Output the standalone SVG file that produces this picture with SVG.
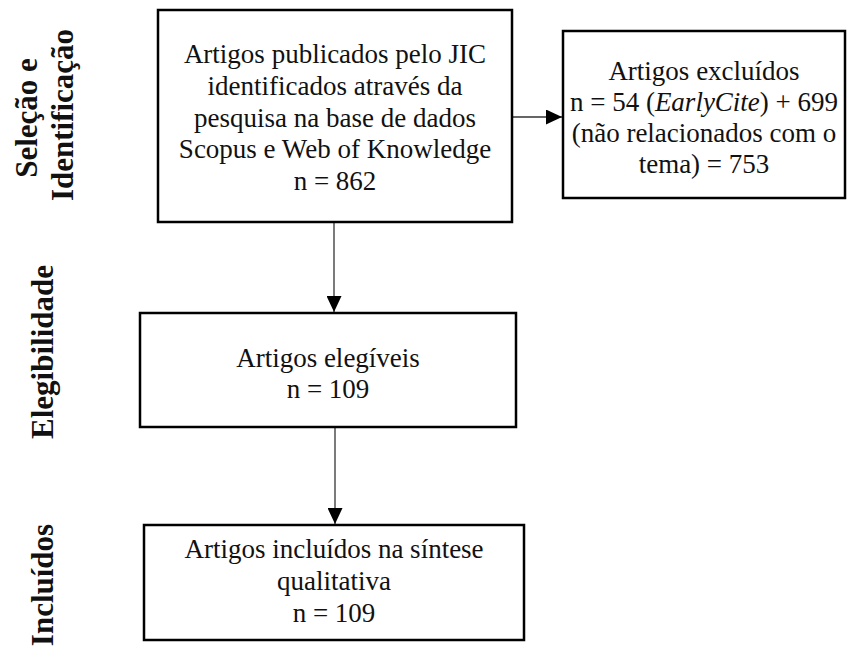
<svg xmlns="http://www.w3.org/2000/svg" width="849" height="648" viewBox="0 0 849 648">
<style>
.box{fill:#fff;stroke:#000;stroke-width:2.5}
.t{font-family:'Liberation Serif','Times New Roman',serif;font-size:27px;fill:#111;text-anchor:middle}
.lbl{font-family:'Liberation Serif','Times New Roman',serif;font-size:31px;font-weight:bold;fill:#111;text-anchor:middle}
.ln{stroke:#333;stroke-width:1.3;fill:none}
</style>
<defs>
<marker id="ah" markerWidth="16" markerHeight="15" refX="16" refY="7.5" orient="auto" markerUnits="userSpaceOnUse">
<path d="M0,0 L16,7.5 L0,15 Z" fill="#000"/>
</marker>
</defs>
<rect width="849" height="648" fill="#fff"/>
<g id="labels">
<text class="lbl" transform="translate(37,118) rotate(-90)">Seleção e</text>
<text class="lbl" transform="translate(73,115) rotate(-90)">Identificação</text>
<text class="lbl" transform="translate(53,352) rotate(-90)">Elegibilidade</text>
<text class="lbl" transform="translate(53,585) rotate(-90)">Incluídos</text>
</g>
<g id="connectors">
<line class="ln" x1="507" y1="117" x2="562" y2="117" marker-end="url(#ah)"/>
<line class="ln" x1="334" y1="222" x2="334" y2="312" marker-end="url(#ah)"/>
<line class="ln" x1="335" y1="427" x2="335" y2="524" marker-end="url(#ah)"/>
</g>
<g id="n1">
<rect class="box" x="158" y="10" width="354" height="212"/>
<text class="t" x="335" y="63">Artigos publicados pelo JIC</text>
<text class="t" x="335" y="95">identificados através da</text>
<text class="t" x="335" y="127">pesquisa na base de dados</text>
<text class="t" x="335" y="158">Scopus e Web of Knowledge</text>
<text class="t" x="335" y="190">n = 862</text>
</g>
<g id="n2">
<rect class="box" x="563" y="31" width="282" height="167"/>
<text class="t" x="704" y="80">Artigos excluídos</text>
<text class="t" x="704" y="111">n = 54 (<tspan font-style="italic">EarlyCite</tspan>) + 699</text>
<text class="t" x="704" y="142">(não relacionados com o</text>
<text class="t" x="704" y="173">tema) = 753</text>
</g>
<g id="n3">
<rect class="box" x="140" y="313" width="376" height="114"/>
<text class="t" x="328" y="367">Artigos elegíveis</text>
<text class="t" x="328" y="398">n = 109</text>
</g>
<g id="n4">
<rect class="box" x="144" y="525" width="380" height="115"/>
<text class="t" x="334" y="558">Artigos incluídos na síntese</text>
<text class="t" x="334" y="590">qualitativa</text>
<text class="t" x="334" y="622">n = 109</text>
</g>
</svg>
